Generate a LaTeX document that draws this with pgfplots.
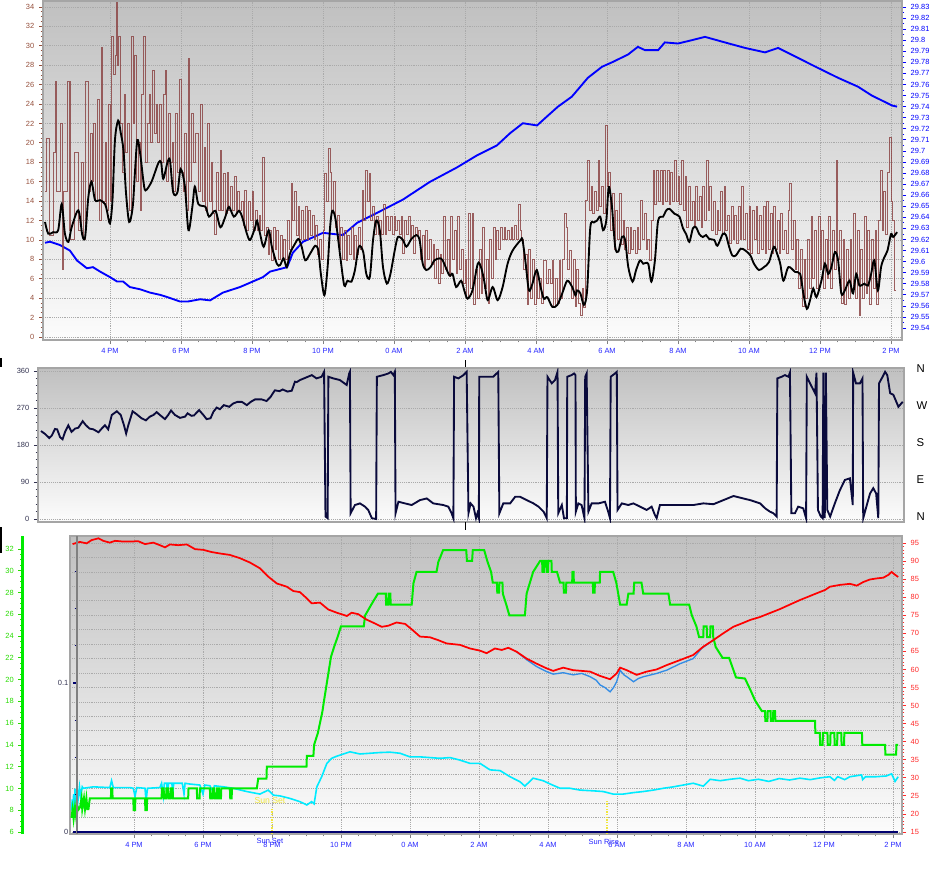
\documentclass[border=0pt]{standalone}
\usepackage{pgfplots}
\pgfplotsset{compat=1.18}
\usepackage{fontspec}
\setmainfont{Liberation Sans}
\definecolor{gust}{RGB}{140,70,70}
\definecolor{baro}{RGB}{0,0,255}
\definecolor{lblbrown}{RGB}{150,80,60}
\definecolor{lblblue}{RGB}{40,40,255}
\definecolor{framegray}{RGB}{165,165,165}
\definecolor{gridgray}{RGB}{170,170,170}
\definecolor{bgtop}{RGB}{192,192,192}
\definecolor{bgbot}{RGB}{252,252,252}
\definecolor{navyline}{RGB}{10,10,60}
\definecolor{darklbl}{RGB}{50,50,80}
\definecolor{tempred}{RGB}{255,0,0}
\definecolor{dewblue}{RGB}{50,140,230}
\definecolor{humgreen}{RGB}{0,235,0}
\definecolor{cyanline}{RGB}{0,235,255}
\definecolor{rainnavy}{RGB}{0,0,110}
\definecolor{lblgreen}{RGB}{40,220,0}
\definecolor{lblred}{RGB}{255,40,40}
\definecolor{sunyellow}{RGB}{240,230,60}
\pgfplotsset{
  base/.style={
    scale only axis, anchor=south west,
    tick label style={font=\fontsize{5.6}{6}\selectfont},
    /pgf/number format/assume math mode=true,
    tick align=outside, major tick length=3pt, minor tick length=1.8pt,
  },
  bg/.style={axis background/.style={top color=bgtop, bottom color=bgbot}},
  dgrid/.style={major grid style={draw=gridgray, densely dotted, line width=0.6pt}},
  p1/.style={at={(32.25pt,-255pt)}, width=644.25pt, height=254.25pt, xmin=2.113, xmax=26.31},
  p3/.style={at={(52.5pt,-625.5pt)}, width=624pt, height=223.5pt, xmin=2.145, xmax=26.261},
}
\begin{document}
\begin{tikzpicture}
\fill[white] (0,0) rectangle (711.75pt,-660.75pt);
\useasboundingbox (0,0) rectangle (711.75pt,-660.75pt);
% ---------------- Panel 1 decorations
\begin{axis}[base, p1, bg, dgrid, ymin=-0.31, ymax=34.62,
  axis line style={draw=framegray, line width=1.5pt},
  xtick={4,6,...,26},
  xticklabels={4 PM,6 PM,8 PM,10 PM,0 AM,2 AM,4 AM,6 AM,8 AM,10 AM,12 PM,2 PM},
  minor x tick num=3, xtick pos=bottom, ytick pos=left,
  ytick={0,2,...,34}, minor y tick num=3,
  xticklabel style={text=lblblue}, yticklabel style={text=lblbrown},
  y tick style={draw=lblbrown, line width=0.6pt},
  x tick style={draw=gray, line width=0.6pt},
  grid=major]
\addplot[draw=none] coordinates {(3,1)};
\end{axis}
% ---------------- Panel 1 barometer
\begin{axis}[base, p1, ymin=29.5292, ymax=29.8354,
  axis x line=none, axis y line*=right,
  y axis line style={draw=framegray, line width=1pt},
  ytick={29.54,29.55,29.56,29.57,29.58,29.59,29.6,29.61,29.62,29.63,29.64,29.65,29.66,29.67,29.68,29.69,29.7,29.71,29.72,29.73,29.74,29.75,29.76,29.77,29.78,29.79,29.8,29.81,29.82,29.83},
  minor y tick num=1, scaled y ticks=false,
  yticklabel style={text=baro, /pgf/number format/fixed, /pgf/number format/precision=2},
  y tick style={draw=baro, line width=0.6pt}]
\addplot[baro, line width=1.4pt] coordinates {
(2.17,29.617)(2.31,29.618)(2.59,29.615)(2.87,29.610)(3.07,29.601)(3.35,29.594)(3.52,29.595)
(3.72,29.591)(4.00,29.586)(4.20,29.582)(4.37,29.582)(4.56,29.577)(4.85,29.575)(5.13,29.572)
(5.41,29.570)(5.61,29.568)(5.97,29.564)(6.20,29.564)(6.54,29.566)(6.82,29.565)(7.18,29.572)
(7.66,29.577)(8.31,29.586)(8.51,29.591)(8.99,29.595)(9.15,29.608)(9.44,29.618)(10.00,29.626)
(10.56,29.624)(10.96,29.635)(11.52,29.644)(12.25,29.656)(13.01,29.672)(13.77,29.685)
(14.34,29.696)(14.90,29.705)(15.27,29.716)(15.63,29.725)(16.03,29.723)(16.34,29.732)
(16.62,29.740)(17.01,29.749)(17.46,29.766)(17.86,29.776)(18.14,29.780)(18.59,29.787)
(18.87,29.794)(19.07,29.791)(19.44,29.791)(19.63,29.798)(20.00,29.797)(20.39,29.800)
(20.76,29.803)(21.32,29.798)(21.89,29.793)(22.45,29.789)(22.82,29.793)(23.38,29.784)
(23.94,29.775)(24.51,29.766)(25.07,29.758)(25.46,29.750)(26.03,29.741)(26.17,29.740)};
\end{axis}
% ---------------- Panel 1 wind speed / gust
\begin{axis}[base, p1, ymin=-0.31, ymax=34.62, hide axis]
\addplot[gust, line width=0.7pt, opacity=0.85, const plot] coordinates {
(2.17,15)(2.20,20.5)(2.30,10.5)(2.40,19)(2.46,26.3)(2.50,15)(2.60,22)(2.67,7)(2.70,15)(2.80,26.3)
(2.85,11)(2.87,26.3)(2.90,10)(3.00,19)(3.10,11)(3.20,18)(3.25,10)(3.30,26.3)(3.40,15)(3.44,21)
(3.50,16)(3.53,22)(3.60,14)(3.65,24.5)(3.70,12)(3.77,29.8)(3.80,14)(3.86,20)(3.90,13)(3.96,24)
(4.00,14)(4.05,31)(4.10,27)(4.15,29)(4.18,34.5)(4.20,28)(4.23,31)(4.30,22)(4.35,17)(4.40,25)
(4.45,19)(4.50,22)(4.54,13)(4.60,31)(4.66,22)(4.70,29)(4.75,16)(4.80,20)(4.85,13)(4.90,25)
(4.95,31)(5.00,18)(5.05,22)(5.10,25)(5.15,20)(5.20,27.5)(5.25,21)(5.30,24)(5.35,20)(5.40,24)
(5.45,18)(5.50,25)(5.55,27.5)(5.60,16)(5.64,23)(5.70,18)(5.75,20)(5.80,15)(5.85,23)(5.90,17)
(5.95,26.5)(6.00,17)(6.07,15)(6.10,21)(6.16,13)(6.20,28.7)(6.25,16)(6.30,23)(6.35,18)(6.40,21)
(6.50,15)(6.55,24)(6.60,14)(6.65,19.5)(6.70,13)(6.75,22)(6.80,14)(6.85,18)(6.90,12.7)(6.95,10.6)
(7.00,17)(7.05,13)(7.10,19.2)(7.15,13)(7.20,16.8)(7.25,12.7)(7.30,17)(7.35,13)(7.40,15.5)(7.45,13)
(7.50,16.5)(7.55,12.7)(7.60,15)(7.65,13)(7.70,14)(7.75,11.5)(7.80,15.1)(7.85,11)(7.90,14)(7.95,12)
(8.00,15)(8.05,11)(8.10,13)(8.15,11)(8.20,12.5)(8.25,11)(8.30,18.5)(8.35,10.5)(8.40,11.3)(8.45,8.5)
(8.50,11)(8.55,7.9)(8.60,11.3)(8.65,9)(8.70,11)(8.75,8)(8.80,10.5)(8.85,7.9)(8.90,10)(8.95,8)
(9.00,12)(9.05,9)(9.10,15.8)(9.15,12)(9.20,15)(9.25,10.5)(9.30,13.4)(9.35,10)(9.40,13)(9.45,10)
(9.50,13.4)(9.55,10)(9.60,13)(9.65,10.5)(9.70,12.5)(9.75,10)(9.80,11.5)(9.85,8.5)(9.90,10)(9.95,8)
(10.00,11)(10.05,16.8)(10.10,14)(10.15,19.4)(10.20,17)(10.25,13)(10.30,16)(10.35,11.3)(10.40,12.5)(10.45,9)
(10.50,11.3)(10.55,8)(10.60,11)(10.65,7.9)(10.70,10.5)(10.75,8.5)(10.80,11.3)(10.85,8)(10.90,10.5)(10.95,8.5)
(11.00,11.3)(11.05,9)(11.10,15.1)(11.15,12)(11.20,17.2)(11.25,14)(11.30,16.8)(11.35,12)(11.40,13.4)(11.45,10.6)
(11.50,12.4)(11.55,10.6)(11.60,12)(11.65,10.6)(11.70,13.7)(11.75,10.6)(11.80,12.4)(11.85,11)(11.90,12.4)(11.95,10.6)
(12.00,12.4)(12.05,11)(12.10,12)(12.15,10.6)(12.20,12.4)(12.25,8.6)(12.30,12)(12.35,10.6)(12.40,12.4)(12.45,10)
(12.50,11.5)(12.55,8.6)(12.60,11.3)(12.65,10.6)(12.70,11)(12.75,8)(12.80,10.5)(12.85,7.2)(12.90,11)(12.95,8)
(13.00,10)(13.05,7.5)(13.10,9.5)(13.15,6)(13.20,9)(13.25,5.5)(13.30,8.5)(13.35,6.5)(13.40,12.4)(13.45,7)
(13.50,10)(13.55,6.2)(13.60,12.4)(13.65,8)(13.70,11)(13.75,6.5)(13.80,12.4)(13.85,7)(13.90,9)(13.95,5.5)
(14.00,8)(14.05,4)(14.10,12.7)(14.15,5)(14.20,12.7)(14.25,3.4)(14.30,7)(14.35,4)(14.40,9)(14.45,4.5)
(14.50,11.3)(14.55,5)(14.60,8)(14.65,3.5)(14.70,10)(14.75,6)(14.80,11.3)(14.85,8)(14.90,11)(14.95,9)
(15.00,11.3)(15.05,10)(15.10,11.3)(15.15,10)(15.20,11)(15.25,10)(15.30,11.3)(15.35,10)(15.40,11.5)(15.45,10)
(15.50,13.7)(15.55,11)(15.60,10)(15.65,7)(15.70,8.5)(15.75,3.4)(15.80,9)(15.85,4)(15.90,8)(15.95,3.4)
(16.00,7)(16.05,4)(16.10,6)(16.15,3.5)(16.20,7.9)(16.25,7.9)(16.30,5.5)(16.35,7)(16.40,5.5)(16.45,7.9)
(16.50,3.1)(16.55,6)(16.60,3.5)(16.65,7.9)(16.70,4)(16.75,8)(16.80,12.7)(16.85,11.3)(16.90,7)(16.95,8.9)
(17.00,4)(17.05,8)(17.10,3.1)(17.15,7)(17.20,3.5)(17.25,2.2)(17.30,5)(17.35,3)(17.40,14.1)(17.45,18.2)
(17.50,13)(17.55,15.5)(17.60,12.7)(17.65,15)(17.70,13)(17.75,18.2)(17.80,13.5)(17.85,15.5)(17.90,12.7)(17.95,21.8)
(18.00,15.5)(18.05,17)(18.10,11)(18.15,14.8)(18.20,9)(18.25,13)(18.30,10)(18.35,14.8)(18.40,9.5)(18.45,12)
(18.50,9)(18.55,11.3)(18.60,8.6)(18.65,11.3)(18.70,9)(18.75,11)(18.80,8.6)(18.85,11.3)(18.90,9)(18.95,14.1)
(19.00,10)(19.05,12.7)(19.10,9)(19.15,10)(19.20,7.9)(19.25,12)(19.30,17.2)(19.35,13.7)(19.40,17.2)(19.45,14)
(19.50,17.2)(19.55,13.7)(19.60,17.2)(19.65,14)(19.70,17.2)(19.75,13.7)(19.80,17)(19.85,14)(19.90,18.2)(19.95,14)
(20.00,16.5)(20.05,13.7)(20.10,18.2)(20.15,13)(20.20,16.5)(20.25,11.3)(20.30,15.5)(20.35,12)(20.40,14)(20.45,11.3)
(20.50,15.5)(20.55,12)(20.60,14.5)(20.65,11.3)(20.70,15.5)(20.75,12)(20.80,18.2)(20.85,13)(20.90,15.5)(20.95,11)
(21.00,14)(21.05,10.6)(21.10,13)(21.15,11)(21.20,15)(21.25,10.6)(21.30,15.5)(21.35,11)(21.40,12.5)(21.45,9.6)
(21.50,13.4)(21.55,10)(21.60,12.5)(21.65,9.6)(21.70,13.4)(21.75,10)(21.80,15.5)(21.85,10)(21.90,12.7)(21.95,9)
(22.00,13.4)(22.05,8.6)(22.10,13)(22.15,10)(22.20,13.4)(22.25,8.6)(22.30,12.5)(22.35,9)(22.40,13.4)(22.45,8.6)
(22.50,14)(22.55,9)(22.60,12.7)(22.65,8.6)(22.70,13.4)(22.75,9)(22.80,12)(22.85,8.6)(22.90,12.7)(22.95,9)
(23.00,11)(23.05,8.6)(23.10,13)(23.15,15.8)(23.20,9)(23.25,12)(23.30,7)(23.35,10)(23.40,5)(23.45,9)
(23.50,3.1)(23.55,8)(23.60,4)(23.65,10)(23.70,5)(23.75,12.4)(23.80,6)(23.85,11)(23.90,5)(23.95,12.4)
(24.00,7)(24.05,11)(24.10,5)(24.15,10)(24.20,6)(24.25,12.4)(24.30,5)(24.35,11)(24.40,7)(24.45,18.2)
(24.50,8)(24.55,11)(24.60,3.5)(24.65,10)(24.70,3.4)(24.75,9)(24.80,4)(24.85,10)(24.90,5)(24.95,12.7)
(25.00,4)(25.05,11)(25.10,2.2)(25.15,9)(25.20,4)(25.25,12.4)(25.30,4.5)(25.35,11)(25.40,3.4)(25.45,10)
(25.50,5)(25.55,11)(25.60,3.4)(25.65,12)(25.70,17.2)(25.75,11)(25.80,15)(25.85,10.6)(25.90,17)(25.95,20.6)
(26.00,14)(26.05,12)(26.10,4.8)(26.15,4.8)};
\addplot[black, line width=1.4pt, smooth, tension=0.5] coordinates {
(2.17,11.85)(2.26,10.65)(2.40,10.8)(2.54,11.0)(2.64,13.7)(2.73,10.65)(2.83,9.8)(2.92,11.3)(3.11,13.05)
(3.22,10.5)(3.30,10.3)(3.39,14.4)(3.48,16.0)(3.58,14.1)(3.72,14.1)(3.86,13.7)(3.92,12.9)(4.00,11.7)
(4.07,14.1)(4.14,20.3)(4.23,22.3)(4.30,21.1)(4.38,19.2)(4.45,14.9)(4.54,11.85)(4.64,13.4)(4.70,16.8)
(4.77,20.3)(4.85,18.9)(4.94,16.1)(5.00,15.1)(5.17,16.0)(5.36,17.9)(5.44,18.0)(5.50,16.3)(5.62,18.0)
(5.69,18.2)(5.78,14.9)(5.90,14.9)(5.99,17.3)(6.11,15.5)(6.21,11.0)(6.32,13.4)(6.39,15.5)(6.49,13.7)
(6.69,13.4)(6.79,12.4)(6.97,13.0)(7.11,11.3)(7.25,12.4)(7.35,13.4)(7.49,12.4)(7.63,13.0)(7.72,12.4)
(7.86,10.6)(7.95,10.0)(8.09,11.3)(8.14,12.0)(8.23,10.6)(8.33,9.3)(8.47,11.0)(8.56,9.3)(8.70,7.55)
(8.79,7.4)(8.89,8.1)(8.98,7.2)(9.07,8.6)(9.21,9.6)(9.31,10.1)(9.40,9.3)(9.50,7.9)(9.64,8.6)(9.78,9.4)
(9.87,8.9)(9.94,6.5)(10.04,4.3)(10.13,7.2)(10.20,11.3)(10.26,13.0)(10.34,12.4)(10.41,10.6)(10.50,7.9)
(10.60,5.3)(10.69,5.8)(10.80,5.7)(10.90,6.9)(11.01,9.3)(11.13,8.8)(11.22,6.5)(11.32,6.2)(11.41,10.0)
(11.50,12.0)(11.60,11.0)(11.69,7.2)(11.80,5.5)(11.90,6.5)(12.02,8.9)(12.11,10.3)(12.25,10.0)(12.35,9.3)
(12.49,10.1)(12.63,10.5)(12.72,10.0)(12.81,7.55)(12.91,6.9)(13.03,7.2)(13.14,7.9)(13.28,8.1)(13.37,7.9)
(13.56,6.35)(13.65,6.5)(13.75,5.15)(13.89,5.8)(13.98,4.8)(14.07,3.95)(14.21,4.8)(14.36,7.55)(14.45,7.2)
(14.54,5.8)(14.64,3.8)(14.78,5.15)(14.92,3.8)(15.06,5.15)(15.20,7.55)(15.34,8.9)(15.57,10.0)(15.62,10.0)
(15.71,7.55)(15.80,4.8)(15.90,5.5)(16.02,6.9)(16.13,5.15)(16.22,3.95)(16.32,4.1)(16.46,3.1)(16.60,3.3)
(16.74,4.5)(16.88,5.8)(17.02,5.15)(17.11,4.3)(17.16,4.8)(17.25,4.5)(17.35,3.3)(17.44,4.8)(17.53,11.3)
(17.63,11.8)(17.72,12.0)(17.81,12.4)(17.89,11.0)(17.98,12.0)(18.05,15.45)(18.14,13.4)(18.23,9.3)
(18.32,8.8)(18.42,10.3)(18.51,10.0)(18.60,7.2)(18.72,5.7)(18.82,6.9)(18.93,7.9)(19.02,7.55)(19.16,7.55)
(19.25,5.7)(19.35,7.9)(19.44,12.0)(19.58,12.4)(19.67,13.05)(19.76,13.2)(19.90,12.7)(20.04,12.4)
(20.14,11.2)(20.23,10.6)(20.32,9.8)(20.42,11.2)(20.51,11.3)(20.60,10.6)(20.70,10.3)(20.79,10.5)
(20.88,10.1)(21.02,10.0)(21.11,9.4)(21.26,10.6)(21.35,10.5)(21.44,9.3)(21.53,8.4)(21.63,8.4)(21.77,9.1)
(21.90,8.9)(22.04,8.4)(22.14,7.55)(22.28,6.9)(22.42,7.2)(22.56,7.7)(22.70,9.3)(22.79,8.6)(22.88,7.55)
(22.97,5.8)(23.11,7.2)(23.30,6.7)(23.44,6.5)(23.53,4.5)(23.63,2.9)(23.72,3.8)(23.81,5.0)(23.90,4.1)
(24.04,5.8)(24.14,7.55)(24.23,6.5)(24.32,7.2)(24.42,8.75)(24.51,7.9)(24.60,4.5)(24.70,4.8)(24.83,5.8)
(24.93,4.5)(25.02,6.5)(25.11,5.3)(25.25,5.5)(25.35,5.3)(25.44,6.5)(25.53,7.9)(25.63,4.8)(25.72,7.2)
(25.81,8.2)(25.90,8.9)(26.00,10.6)(26.06,10.3)(26.17,10.8)};
\end{axis}
% ---------------- Panel 2 wind direction
\begin{axis}[base, bg, dgrid, at={(28.5pt,-391.5pt)}, width=649.5pt, height=115.5pt,
  xmin=2.086, xmax=26.196, ymin=-7.3, ymax=367.3,
  axis line style={draw=framegray, line width=1.5pt},
  xtick=\empty, ytick={0,90,180,270,360}, minor y tick num=4, ytick pos=left,
  ymajorgrids, yticklabel style={text=darklbl}, y tick style={draw=darklbl, line width=0.6pt}]
\addplot[navyline, line width=1.4pt] coordinates {
(2.17,214)(2.28,207)(2.40,197)(2.47,203)(2.56,219)(2.62,218)(2.70,199)(2.77,194)(2.84,212)(2.93,228)
(3.02,212)(3.12,220)(3.21,222)(3.33,238)(3.42,228)(3.52,220)(3.63,218)(3.77,211)(3.86,220)(3.95,228)
(4.04,218)(4.14,253)(4.28,262)(4.39,253)(4.48,228)(4.54,208)(4.60,228)(4.72,262)(4.83,255)(4.97,245)
(5.09,240)(5.20,249)(5.30,253)(5.39,260)(5.48,253)(5.62,243)(5.71,253)(5.79,264)(5.90,253)(6.04,246)
(6.18,249)(6.25,257)(6.36,251)(6.43,252)(6.57,265)(6.69,253)(6.78,243)(6.89,245)(6.97,261)(7.06,271)
(7.15,267)(7.26,277)(7.41,273)(7.52,281)(7.64,285)(7.76,285)(7.90,277)(8.01,285)(8.13,291)(8.31,291)
(8.45,287)(8.56,297)(8.68,313)(8.81,311)(8.90,315)(9.03,310)(9.15,312)(9.24,334)(9.29,333)(9.38,338)
(9.71,350)(9.84,342)(9.98,346)(10.05,358)(10.09,6)(10.15,2)(10.17,346)(10.31,342)(10.49,338)(10.68,326)
(10.75,354)(10.77,358)(10.79,14)(10.91,34)(11.05,38)(11.19,30)(11.28,22)(11.38,2)(11.50,0)(11.52,346)
(11.70,350)(11.84,354)(11.91,358)(11.98,350)(12.02,358)(12.04,14)(12.12,42)(12.30,38)(12.49,34)(12.72,46)
(12.91,50)(13.09,38)(13.37,34)(13.51,30)(13.60,14)(13.65,2)(13.67,346)(13.79,342)(13.93,350)(14.02,358)
(14.07,14)(14.13,38)(14.21,30)(14.28,2)(14.32,14)(14.36,2)(14.37,346)(14.58,346)(14.76,346)(14.90,358)
(14.93,14)(15.04,38)(15.23,38)(15.37,54)(15.51,54)(15.69,46)(15.88,38)(16.02,30)(16.16,18)(16.25,2)
(16.27,346)(16.39,330)(16.48,338)(16.55,358)(16.57,14)(16.67,34)(16.73,2)(16.81,2)(16.82,346)(16.94,350)
(17.01,354)(17.05,350)(17.06,18)(17.13,38)(17.22,34)(17.30,2)(17.32,346)(17.36,354)(17.41,18)(17.50,38)
(17.69,38)(17.87,42)(17.96,18)(18.01,2)(18.03,346)(18.15,354)(18.20,358)(18.22,22)(18.34,38)(18.52,34)
(18.66,38)(18.85,30)(19.03,22)(19.17,30)(19.26,10)(19.31,2)(19.40,34)(19.68,34)(19.96,34)(20.33,34)
(20.61,38)(20.89,36)(21.17,46)(21.45,56)(21.72,50)(21.91,46)(22.05,42)(22.19,38)(22.33,26)(22.46,18)
(22.56,14)(22.65,6)(22.67,342)(22.79,346)(22.88,350)(22.98,346)(23.02,356)(23.06,14)(23.16,14)(23.25,30)
(23.39,26)(23.47,2)(23.49,346)(23.58,330)(23.72,306)(23.76,356)(23.80,22)(23.88,6)(23.93,2)(23.95,356)
(23.99,2)(24.02,356)(24.06,22)(24.14,6)(24.27,38)(24.41,70)(24.55,95)(24.69,99)(24.77,34)(24.78,356)
(24.86,330)(24.97,330)(25.04,342)(25.06,2)(25.16,34)(25.25,62)(25.34,75)(25.42,62)(25.48,2)(25.50,330)
(25.60,346)(25.67,358)(25.73,350)(25.81,306)(25.90,302)(26.04,273)(26.16,285)};
\end{axis}
\begin{axis}[base, at={(28.5pt,-391.5pt)}, width=649.5pt, height=115.5pt,
  xmin=2.086, xmax=26.196, ymin=-7.3, ymax=367.3,
  axis x line=none, axis y line*=right, y axis line style={draw=none},
  ytick={0,90,180,270,360}, yticklabels={N,E,S,W,N}, major tick length=0pt,
  yticklabel style={font=\fontsize{8.5}{9}\selectfont, xshift=6pt, yshift=2pt}]
\addplot[draw=none] coordinates {(3,100)};
\end{axis}
% ---------------- Panel 3 decorations + cyan
\begin{axis}[base, p3, bg, dgrid, ymin=14.446, ymax=96.938,
  axis line style={draw=framegray, line width=1.5pt},
  xtick={4,6,...,26},
  xticklabels={4 PM,6 PM,8 PM,10 PM,0 AM,2 AM,4 AM,6 AM,8 AM,10 AM,12 PM,2 PM},
  minor x tick num=3, xtick pos=bottom, ytick pos=right, xmajorgrids,
  extra x ticks={7.94,17.62}, extra x tick labels={Sun Set,Sun Rise},
  extra x tick style={grid=none, major tick length=0pt},
  ytick={15,20,...,95}, minor y tick num=4,
  extra y ticks={15,19,...,95}, extra y tick labels={},
  extra y tick style={grid=major, major tick length=0pt, ytick pos=right},
  xticklabel style={text=lblblue}, yticklabel style={text=lblred},
  y tick style={draw=lblred, line width=0.6pt},
  x tick style={draw=gray, line width=0.6pt}]
\draw[sunyellow, densely dotted, line width=1pt] (axis cs:8.0,14.446) -- (axis cs:8.0,21.6);
\draw[sunyellow, densely dotted, line width=1pt] (axis cs:17.71,14.446) -- (axis cs:17.71,23.9);
\node[text=sunyellow, font=\fontsize{6.5}{7}\selectfont] at (axis cs:7.94,23.6) {Sun Set};
\addplot[cyanline, line width=1.2pt] coordinates {
(2.19,21.0)(2.21,24.0)(2.23,20.5)(2.25,25.5)(2.27,21.5)(2.29,27.0)(2.31,23.0)(2.35,27.0)(2.38,24.0)
(2.42,27.5)(2.45,25.0)(2.50,27.5)(2.53,27.1)(2.82,27.5)(3.30,27.3)(3.35,29.2)(3.40,27.3)(3.88,27.3)
(3.98,27.1)(4.03,24.8)(4.08,27.3)(4.32,27.1)(4.35,23.4)(4.39,27.1)(4.75,27.3)(4.80,28.5)(4.85,25.0)
(4.88,28.5)(4.95,28.5)(4.97,25.0)(5.00,28.5)(5.10,28.5)(5.12,25.0)(5.15,28.5)(5.40,28.5)(5.45,25.5)
(5.48,28.5)(5.60,28.3)(5.91,28.0)(6.00,25.5)(6.05,28.0)(6.20,27.8)(6.30,26.0)(6.33,27.8)(6.60,27.5)
(6.88,27.1)(7.27,26.2)(7.65,25.5)(7.89,26.6)(8.04,25.2)(8.23,25.0)(8.52,24.3)(8.81,23.4)(9.01,22.5)
(9.15,23.4)(9.22,22.8)(9.30,27.5)(9.44,30.3)(9.59,34.0)(9.73,35.4)(9.88,36.0)(10.07,36.6)(10.26,37.2)
(10.55,36.6)(10.84,36.8)(11.13,37.0)(11.42,37.1)(11.71,36.8)(12.00,35.8)(12.29,35.8)(12.58,35.6)
(12.87,35.4)(13.16,35.6)(13.45,34.9)(13.74,34.0)(14.03,34.0)(14.32,32.2)(14.61,32.0)(14.90,30.3)
(15.19,28.9)(15.33,27.7)(15.57,29.9)(15.86,29.2)(16.06,28.3)(16.35,27.1)(16.64,27.1)(16.93,26.6)
(17.31,26.4)(17.60,26.2)(17.89,25.5)(18.18,25.5)(18.47,25.9)(18.76,26.2)(19.05,26.6)(19.34,27.1)
(19.63,27.5)(19.92,28.0)(20.21,28.5)(20.50,27.7)(20.70,29.6)(20.99,29.2)(21.28,29.6)(21.57,29.9)
(21.81,29.2)(22.10,29.6)(22.40,29.0)(22.70,29.8)(23.00,29.4)(23.30,29.9)(23.60,29.5)(23.90,30.0)
(24.17,30.3)(24.30,29.3)(24.40,30.3)(24.60,29.5)(24.75,30.3)(25.09,30.8)(25.12,29.5)(25.20,30.3)
(25.50,30.3)(25.80,30.5)(25.96,31.1)(26.06,29.0)(26.15,30.3)};
\end{axis}
% ---------------- Panel 3 green series
\begin{axis}[base, p3, ymin=5.816, ymax=33.194, hide axis]
\addplot[humgreen, line width=1.5pt] coordinates {
(2.19,7.3)(2.22,8.1)(2.25,7.2)(2.29,8.3)(2.33,7.2)(2.37,8.3)(2.40,8.1)(2.44,8.3)(2.48,9.1)(2.50,8.1)
(2.55,9.1)(2.58,8.1)(2.62,9.1)(2.65,8.1)(2.68,8.1)(2.72,9.1)(3.33,9.1)(3.34,10.0)(3.37,10.0)(3.38,9.1)
(3.98,9.1)(3.99,8.0)(4.03,8.0)(4.04,9.1)(4.32,9.1)(4.33,8.0)(4.37,8.0)(4.38,9.1)(4.80,9.1)(4.81,10.0)
(4.86,10.0)(4.87,9.1)(4.93,9.1)(4.94,10.0)(4.99,10.0)(5.00,9.1)(5.06,9.1)(5.07,10.0)(5.12,10.0)(5.13,9.1)
(5.19,9.1)(5.57,9.1)(5.58,10.0)(5.82,10.0)(5.83,9.1)(5.90,9.1)(5.91,10.0)(6.20,10.0)(6.21,9.1)(6.27,9.1)
(6.28,10.0)(6.33,10.0)(6.34,9.1)(6.40,9.1)(6.41,10.0)(6.46,10.0)(6.47,9.1)(6.52,9.1)(6.53,10.0)(6.78,10.0)
(6.79,9.1)(6.83,9.1)(6.84,10.0)(7.56,10.0)(7.60,10.9)(7.84,10.9)(7.85,12.0)(9.00,12.0)(9.01,13.0)
(9.20,13.0)(9.22,14.0)(9.33,15.1)(9.39,16.0)(9.46,17.05)(9.51,18.1)(9.61,20.1)(9.71,22.1)(9.80,23.0)
(9.90,23.9)(10.00,24.9)(10.66,24.9)(10.70,25.9)(10.88,26.9)(11.07,27.9)(11.30,27.9)(11.31,26.9)
(11.37,26.9)(11.38,27.9)(11.43,27.9)(11.44,26.9)(12.05,26.9)(12.10,28.85)(12.19,29.9)(12.77,29.9)
(12.82,30.8)(12.96,31.9)(13.63,31.9)(13.65,30.9)(13.80,30.9)(13.82,31.9)(14.15,31.9)(14.25,30.8)
(14.35,29.9)(14.40,28.9)(14.52,28.9)(14.53,28.0)(14.58,28.0)(14.59,28.9)(14.68,28.9)(14.69,27.9)
(14.79,26.9)(14.88,25.9)(15.33,25.9)(15.38,27.9)(15.57,29.9)(15.77,30.9)(15.83,30.9)(15.84,29.9)
(15.88,29.9)(15.89,30.9)(15.95,30.9)(15.96,29.9)(16.00,29.9)(16.01,30.9)(16.10,30.9)(16.11,29.9)
(16.26,29.9)(16.35,28.9)(16.45,28.9)(16.46,28.0)(16.52,28.0)(16.53,28.9)(16.70,28.9)(16.71,29.9)
(16.74,29.9)(16.75,28.9)(17.30,28.9)(17.31,28.0)(17.35,28.0)(17.36,28.9)(17.50,28.9)(17.51,29.9)
(17.89,29.9)(17.98,28.9)(18.09,26.9)(18.28,26.9)(18.33,27.9)(18.48,27.9)(18.50,28.9)(18.71,28.9)
(18.76,27.9)(19.49,27.9)(19.54,26.9)(20.09,26.9)(20.17,25.9)(20.30,24.9)(20.38,23.9)(20.50,23.9)
(20.51,24.9)(20.60,24.9)(20.61,23.9)(20.70,23.9)(20.71,24.9)(20.78,24.9)(20.79,23.9)(20.86,23.0)
(21.06,22.0)(21.25,22.0)(21.35,21.1)(21.45,20.2)(21.71,20.1)(21.86,19.1)(22.00,18.1)(22.20,17.1)
(22.29,17.1)(22.30,16.2)(22.36,16.2)(22.37,17.1)(22.45,17.1)(22.46,16.2)(22.52,16.2)(22.53,17.1)
(22.58,17.1)(22.59,16.2)(23.74,16.2)(23.75,15.1)(23.88,15.1)(23.89,14.0)(23.96,14.0)(23.97,15.1)
(24.10,15.1)(24.11,14.0)(24.18,14.0)(24.19,15.1)(24.30,15.1)(24.31,14.0)(24.38,14.0)(24.39,15.1)
(24.50,15.1)(24.51,14.0)(24.58,14.0)(24.59,15.1)(25.10,15.1)(25.11,14.0)(25.77,14.0)(25.78,13.1)
(26.09,13.1)(26.10,14.0)(26.15,14.0)};
\end{axis}
% ---------------- Panel 3 red and blue
\begin{axis}[base, p3, ymin=14.446, ymax=96.938, hide axis]
\addplot[dewblue, line width=1pt] coordinates {
(15.09,64.9)(15.38,62.7)(15.67,60.8)(15.96,59.4)(16.15,58.7)(16.44,59.1)(16.73,58.5)(16.98,58.9)
(17.22,58.0)(17.40,57.0)(17.51,55.7)(17.65,55.0)(17.80,53.8)(17.90,55.0)(17.99,56.6)(18.09,59.8)
(18.20,58.5)(18.28,58.0)(18.48,56.6)(18.62,57.5)(18.77,58.0)(19.15,58.9)(19.44,59.8)(19.83,61.6)
(20.21,63.0)(20.45,65.8)(20.79,68.1)};
\addplot[tempred, line width=1.3pt] coordinates {
(2.22,94.7)(2.43,95.3)(2.63,94.9)(2.77,95.8)(2.97,96.3)(3.11,95.6)(3.30,95.1)(3.45,95.6)(3.69,95.4)
(3.88,95.4)(4.12,95.5)(4.32,94.7)(4.56,95.1)(4.75,94.4)(4.90,93.8)(5.04,94.6)(5.28,94.4)(5.53,94.6)
(5.77,93.3)(6.01,93.1)(6.25,92.5)(6.49,92.1)(6.78,91.7)(7.07,90.8)(7.36,89.6)(7.65,88.0)(7.89,85.7)
(8.14,83.8)(8.43,82.9)(8.62,81.7)(8.81,81.4)(8.96,80.1)(9.15,78.3)(9.39,78.5)(9.63,76.6)(9.88,75.7)
(10.17,74.8)(10.31,75.7)(10.50,75.3)(10.74,73.8)(10.99,72.7)(11.18,71.8)(11.37,72.1)(11.61,73.0)
(11.86,72.6)(12.05,71.1)(12.29,69.1)(12.58,68.9)(12.82,68.1)(13.06,67.2)(13.45,66.8)(13.74,65.8)
(14.03,65.2)(14.22,64.5)(14.46,65.8)(14.66,65.4)(14.85,66.0)(15.09,64.9)(15.38,63.0)(15.67,61.6)
(15.96,60.3)(16.15,59.6)(16.44,60.5)(16.73,59.8)(16.98,59.6)(17.22,59.4)(17.51,58.2)(17.80,57.3)
(17.99,58.9)(18.09,60.5)(18.28,59.8)(18.57,58.5)(18.86,59.4)(19.15,60.0)(19.44,61.2)(19.83,62.6)
(20.21,64.0)(20.50,66.3)(20.79,68.1)(21.08,70.0)(21.37,71.8)(21.66,72.9)(21.86,73.7)(22.14,74.5)
(22.72,76.7)(23.30,79.2)(23.74,80.9)(24.03,82.0)(24.17,82.9)(24.46,83.4)(24.75,83.7)(24.95,83.2)
(25.14,84.2)(25.33,84.9)(25.53,85.2)(25.72,85.4)(25.87,86.2)(25.96,87.0)(26.06,86.2)(26.15,85.6)};
\end{axis}
% ---------------- Panel 3 green scale (far left)
\begin{axis}[base, at={(16.875pt,-625.5pt)}, width=0.75pt, height=223.5pt,
  xmin=0, xmax=1, ymin=5.816, ymax=33.194,
  axis x line=none, axis y line*=left,
  y axis line style={draw=humgreen, line width=2.2pt},
  ytick={6,8,...,32}, minor y tick num=3,
  yticklabel style={text=lblgreen}, y tick style={draw=lblgreen, line width=0.6pt}]
\addplot[draw=none] coordinates {(0.5,10)};
\end{axis}
% ---------------- Panel 3 rain scale
\begin{axis}[base, at={(57.75pt,-625.5pt)}, width=621pt, height=223.5pt,
  xmin=2.348, xmax=26.348, ymin=-0.00134, ymax=0.19866,
  axis x line=none, axis y line*=left,
  y axis line style={draw=gray, line width=1.2pt},
  ytick={0,0.1}, yticklabels={0,0.1},
  minor ytick={0.025,0.05,0.075,0.125,0.15,0.175},
  yticklabel style={text=darklbl}, y tick style={draw=rainnavy, line width=0.8pt},
  tick align=outside]
\addplot[rainnavy, line width=1.8pt] coordinates {(2.348,0)(26.15,0)};
\end{axis}
% cursor marks
\draw[black, line width=1.2pt] (0.75pt,-268.5pt) -- (0.75pt,-275.25pt);
\draw[black, line width=1.2pt] (0.75pt,-395.25pt) -- (0.75pt,-414.75pt);
\draw[black, line width=0.75pt] (349.3pt,-270pt) -- (349.3pt,-275.5pt);
\draw[black, line width=0.75pt] (349.3pt,-391.5pt) -- (349.3pt,-397.5pt);
\end{tikzpicture}
\end{document}
